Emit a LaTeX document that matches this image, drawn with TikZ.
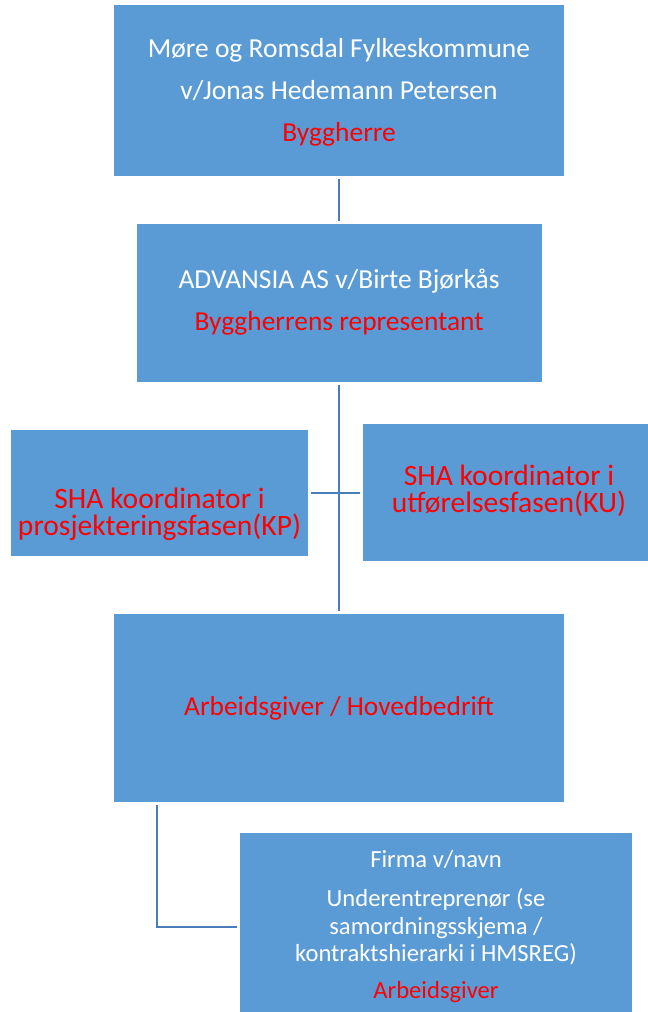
\documentclass[tikz,border=0pt]{standalone}
\usepackage{fontspec}
\setmainfont{Carlito}
\definecolor{boxblue}{HTML}{5B9BD5}
\definecolor{lineblue}{HTML}{4A7EBB}
\definecolor{txtred}{HTML}{FF0000}
\newcommand{\topr}[1]{\rule{0pt}{#1}}
\newcommand{\botr}[1]{\rule[-#1]{0pt}{#1}}
\newcommand{\fixls}{\lineskiplimit-200pt\relax}
\newcommand{\mainfnt}{\fontsize{20.6pt}{31.5pt}\selectfont\fixls}
\newcommand{\shafnt}{\fontsize{22.2pt}{20.25pt}\selectfont\fixls}
\newcommand{\smallfnt}{\fontsize{18.45pt}{20.6pt}\selectfont\fixls}
\tikzset{
  box/.style={rectangle, fill=boxblue, draw=none, inner sep=0pt, align=center, text=white},
  maintext/.style={font=\mainfnt},
  shatext/.style={text=txtred, font=\shafnt},
  smalltext/.style={font=\smallfnt},
  conn/.style={draw=lineblue, line width=1.5pt, shorten <=2.25pt, shorten >=2.25pt}
}
\begin{document}
\begin{tikzpicture}[x=0.75pt,y=-0.75pt]
\useasboundingbox (0,0) rectangle (647,1012);
\node[box, maintext, minimum width=450*0.75pt, minimum height=171*0.75pt] (b1) at (339,90.5)
  {\topr{22.5pt}Møre og Romsdal Fylkeskommune\\ v/Jonas Hedemann Petersen\\ \textcolor{txtred}{Byggherre}\botr{9pt}};
\node[box, maintext, minimum width=405*0.75pt, minimum height=158*0.75pt] (b2) at (339,303)
  {\topr{18.75pt}ADVANSIA AS v/Birte Bjørkås\\ \textcolor{txtred}{Byggherrens representant}\botr{9.75pt}};
\node[box, shatext, minimum width=297*0.75pt, minimum height=126*0.75pt] (kp) at (159.5,493)
  {\topr{50.25pt}SHA koordinator i\\ prosjekteringsfasen(KP)\botr{7.5pt}};
\node[box, shatext, minimum width=292*0.75pt, minimum height=137*0.75pt] (ku) at (509,492.5)
  {\topr{18.75pt}SHA koordinator i\\ utførelsesfasen(KU)\botr{9.75pt}};
\node[box, maintext, text=txtred, minimum width=450*0.75pt, minimum height=188*0.75pt] (b4) at (339,708)
  {\topr{18.75pt}Arbeidsgiver / Hovedbedrift\botr{8.25pt}};
\node[box, smalltext, minimum width=392*0.75pt, minimum height=187*0.75pt] (b5) at (436,926.5)
  {\topr{18pt}Firma v/navn\\[8.9pt] Underentreprenør (se\\ samordningsskjema /\\ kontraktshierarki i HMSREG)\\[7.35pt] \textcolor{txtred}{Arbeidsgiver}\botr{8.25pt}};
\draw[conn] (b1.south) -- (b1.south |- b2.north);
\draw[conn] (b2.south) -- (b2.south |- b4.north);
\draw[conn] (kp.east) -- (kp.east -| ku.west);
\coordinate (b4hook) at ([xshift=43*0.75pt]b4.south west);
\draw[conn] (b4hook) |- (b5.west);
\end{tikzpicture}
\end{document}
